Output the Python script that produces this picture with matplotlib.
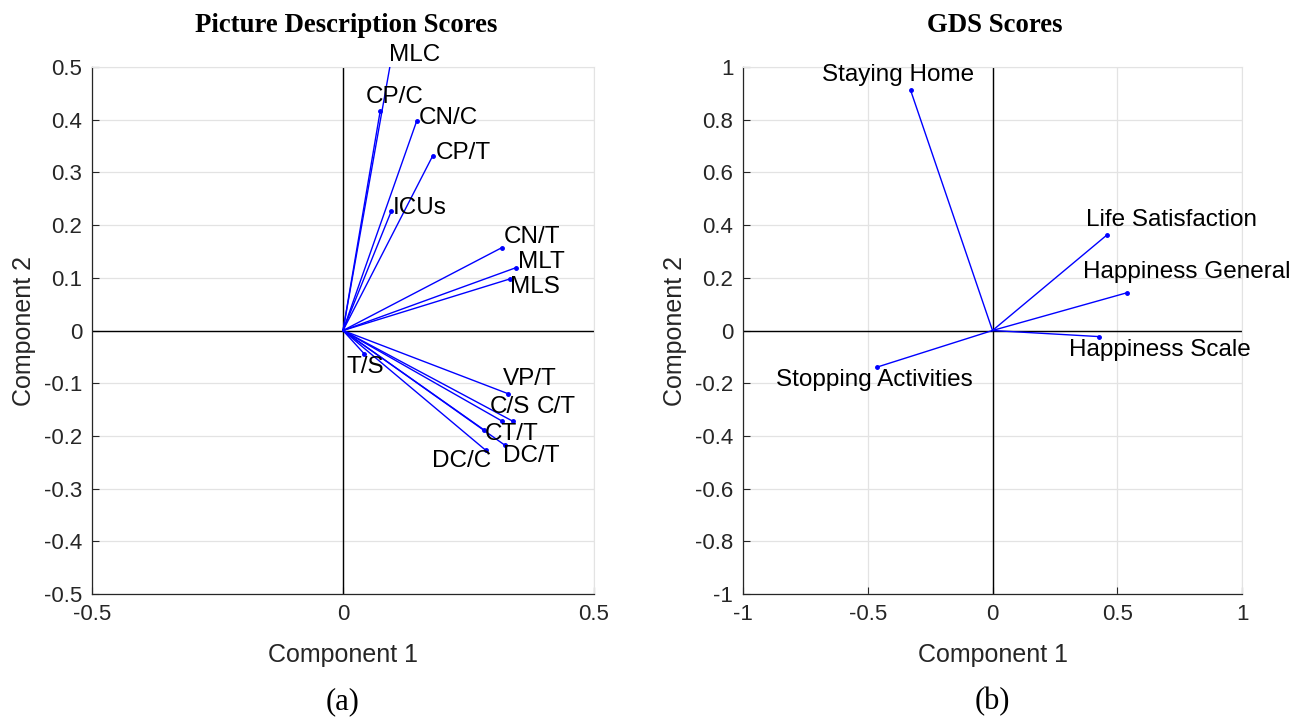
import numpy as np
import matplotlib
matplotlib.use('Agg')
import matplotlib.pyplot as plt
from matplotlib.ticker import FuncFormatter

plt.rcParams['font.family'] = ['Liberation Sans', 'DejaVu Sans']
plt.rcParams['axes.unicode_minus'] = False

# picture description loadings (component 1, component 2)
pd_names = ['MLC', 'CP/C', 'CN/C', 'CP/T', 'ICUs', 'CN/T', 'MLT', 'MLS',
            'T/S', 'VP/T', 'C/S', 'C/T', 'CT/T', 'DC/T', 'DC/C']
pd_c1 = [0.097, 0.074, 0.147, 0.179, 0.096, 0.316, 0.344, 0.333,
         0.042, 0.329, 0.317, 0.338, 0.280, 0.323, 0.284]
pd_c2 = [0.520, 0.416, 0.398, 0.332, 0.226, 0.157, 0.119, 0.098,
         -0.044, -0.120, -0.172, -0.172, -0.188, -0.218, -0.227]

# GDS loadings
gds_names = ['Staying Home', 'Life Satisfaction', 'Happiness General',
             'Happiness Scale', 'Stopping Activities']
gds_c1 = [-0.328, 0.458, 0.538, 0.425, -0.463]
gds_c2 = [0.911, 0.362, 0.143, -0.023, -0.139]

# label placement (offset in pixels from the point, horizontal alignment)
pd_offsets = {
    'MLC': (-3, 1, 'left'), 'CP/C': (-14, 14, 'left'), 'CN/C': (2, 3, 'left'),
    'CP/T': (3, 3, 'left'), 'ICUs': (2, 3, 'left'), 'CN/T': (2, 11, 'left'),
    'MLT': (2, 6, 'left'), 'MLS': (0, -8, 'left'), 'T/S': (-18, -13, 'left'),
    'VP/T': (-5, 15, 'left'), 'C/S': (-12, 14, 'left'), 'C/T': (24, 14, 'left'),
    'CT/T': (1, -4, 'left'), 'DC/T': (-2, -11, 'left'), 'DC/C': (6, -11, 'right'),
}
gds_offsets = {
    'Staying Home': (63, 15, 'right'), 'Life Satisfaction': (-21, 15, 'left'),
    'Happiness General': (-44, 21, 'left'), 'Happiness Scale': (-30, -13, 'left'),
    'Stopping Activities': (-101, -13, 'left'),
}

dark = '#262626'
fig = plt.figure(figsize=(13.08, 7.19), dpi=100)
ax1 = fig.add_axes([92 / 1308, 125 / 719, 502 / 1308, 527 / 719])
ax2 = fig.add_axes([743 / 1308, 125 / 719, 499 / 1308, 527 / 719])


def fmt(v, pos):
    if abs(v) < 1e-9:
        return '0'
    return '%g' % round(v, 3)


def biplot(ax, names, c1, c2, offsets, lim, xticks, yticks):
    ax.set_xlim(-lim, lim)
    ax.set_ylim(-lim, lim)
    ax.set_xticks(xticks)
    ax.set_yticks(yticks)
    ax.xaxis.set_major_formatter(FuncFormatter(fmt))
    ax.yaxis.set_major_formatter(FuncFormatter(fmt))
    ax.grid(True, color='#e3e3e3', linewidth=0.9)
    ax.set_axisbelow(True)
    for s in ['top', 'right']:
        ax.spines[s].set_color('#e3e3e3')
    for s in ['left', 'bottom']:
        ax.spines[s].set_color(dark)
        ax.spines[s].set_linewidth(0.9)
    ax.tick_params(direction='in', length=5, width=0.8, colors=dark,
                   labelsize=16, pad=7, top=False, right=False)
    ax.axhline(0, color='black', linewidth=1.0, zorder=1)
    ax.axvline(0, color='black', linewidth=1.0, zorder=1)
    for n, x, y in zip(names, c1, c2):
        ax.plot([0, x], [0, y], color='#0000ff', linewidth=1.0, zorder=3)
        ax.plot(x, y, '.', color='#0000ff', markersize=5, zorder=4)
        dx, dy, ha = offsets[n]
        ax.annotate(n, (x, y), xytext=(dx, dy), textcoords='offset pixels',
                    ha=ha, va='center', fontsize=17.5, color='black',
                    annotation_clip=False, zorder=5)
    ax.set_xlabel('Component 1', fontsize=18, color=dark, labelpad=13)
    ax.set_ylabel('Component 2', fontsize=18, color=dark, labelpad=6)


biplot(ax1, pd_names, pd_c1, pd_c2, pd_offsets, 0.5,
       [-0.5, 0, 0.5], np.arange(-0.5, 0.51, 0.1))
biplot(ax2, gds_names, gds_c1, gds_c2, gds_offsets, 1.0,
       [-1, -0.5, 0, 0.5, 1], np.arange(-1, 1.01, 0.2))

fig.text(346 / 1308, 1 - 25 / 719, 'Picture Description Scores', ha='center',
         va='center', fontsize=19.3, fontweight='bold', family='Liberation Serif')
fig.text(995 / 1308, 1 - 25 / 719, 'GDS Scores', ha='center',
         va='center', fontsize=19.3, fontweight='bold', family='Liberation Serif')
fig.text(343 / 1308, 1 - 702 / 719, '(a)', ha='center', va='center',
         fontsize=22, family='Liberation Serif')
fig.text(992 / 1308, 1 - 702 / 719, '(b)', ha='center', va='center',
         fontsize=22, family='Liberation Serif')

fig.savefig('out.png', dpi=100, facecolor='white')
